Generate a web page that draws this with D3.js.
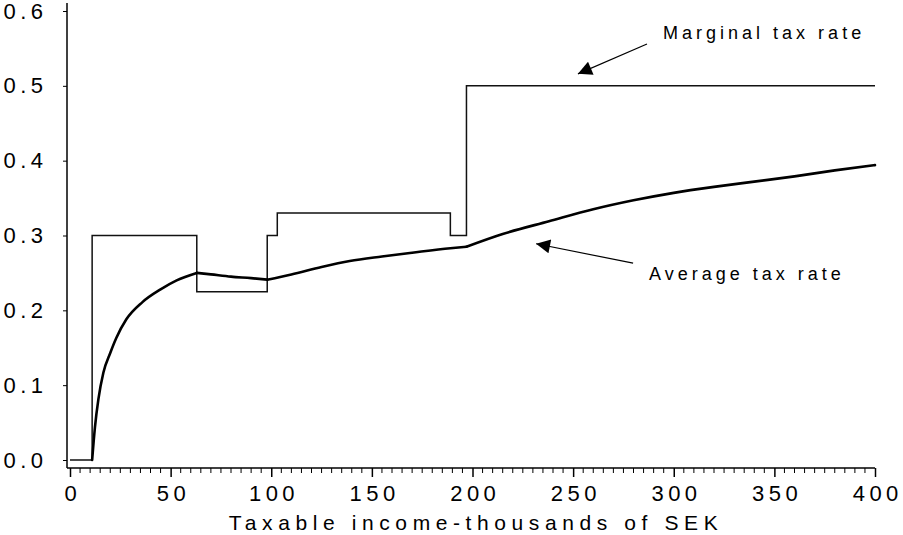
<!DOCTYPE html>
<meta charset="utf-8">
<script src="https://d3js.org/d3.v7.min.js"></script>
<style>
  body { margin: 0; background: #fff; }
  text { font-family: "Liberation Sans", Arial, sans-serif; fill: #000; }
</style>
<div id="chart"></div>
<script>
// marginal tax rate: step points [income, rate], rate holds until next point
const marginalSteps = [[0, 0], [11, 0.3], [63, 0.225], [98, 0.3], [103, 0.33], [189, 0.3], [197, 0.5], [400, 0.5]];

// average tax rate
const avgIncome = [11, 12.4, 14.1, 16.6, 20, 23, 28, 36, 45, 53, 63, 70, 80, 90, 98, 110, 125, 139, 155, 170, 189, 197, 215, 238, 260, 280, 300, 320, 340, 360, 380, 400];
const avgRate   = [0, 0.044, 0.081, 0.117, 0.143, 0.163, 0.188, 0.211, 0.228, 0.24, 0.25, 0.248, 0.245, 0.243, 0.241, 0.248, 0.258, 0.266, 0.272, 0.277, 0.283, 0.285, 0.302, 0.319, 0.335, 0.347, 0.357, 0.365, 0.372, 0.379, 0.387, 0.394];
// incomes where the average curve has a corner
const avgKinks = [11, 63, 98, 197, 400];

const yTicks = [0, 0.1, 0.2, 0.3, 0.4, 0.5, 0.6];
const xMajor = [0, 50, 100, 150, 200, 250, 300, 350, 400];
const xTitle = "Taxable income-thousands of SEK";

const W = 903, H = 535;
const svg = d3.select("#chart").append("svg").attr("width", W).attr("height", H);

const x = d3.scaleLinear().domain([0, 400]).range([70, 875]);
const y = d3.scaleLinear().domain([0, 0.6]).range([460, 11]);

const sp = 4.5; // letter spacing of tick labels

// y axis
const yAx = svg.append("g")
    .attr("transform", "translate(67,0)")
    .call(d3.axisLeft(y).tickValues(yTicks).tickFormat(d3.format(".1f")).tickSize(4).tickPadding(20 - sp));
yAx.select(".domain").remove();
yAx.selectAll("text").style("font-size", "22px").style("letter-spacing", sp + "px");
yAx.selectAll("line").attr("stroke", "#000");
svg.append("line").attr("x1", 67).attr("x2", 67).attr("y1", 3).attr("y2", 468)
    .attr("stroke", "#000").attr("stroke-width", 1.5);

// x axis, minor ticks every 5
const xAx = svg.append("g")
    .attr("transform", "translate(0,468)")
    .call(d3.axisBottom(x).tickValues(xMajor).tickSize(9).tickPadding(8));
xAx.select(".domain").remove();
xAx.selectAll("text").style("font-size", "22px").style("letter-spacing", sp + "px").attr("dx", sp / 2);
xAx.selectAll("line").attr("stroke", "#000").attr("stroke-width", 1.5);
svg.append("g").selectAll("line")
    .data(d3.range(0, 401, 5).filter(d => d % 50 !== 0))
    .join("line")
    .attr("x1", d => x(d)).attr("x2", d => x(d))
    .attr("y1", 468).attr("y2", 473)
    .attr("stroke", "#000");
svg.append("line").attr("x1", 67).attr("x2", 875).attr("y1", 468).attr("y2", 468)
    .attr("stroke", "#000").attr("stroke-width", 1.5);

svg.append("text")
    .attr("x", 476).attr("y", 530)
    .attr("text-anchor", "middle")
    .style("font-size", "21px").style("letter-spacing", "5.6px")
    .text(xTitle);

// marginal rate
svg.append("path")
    .datum(marginalSteps)
    .attr("fill", "none").attr("stroke", "#111").attr("stroke-width", 1.5)
    .attr("d", d3.line().x(d => x(d[0])).y(d => y(d[1])).curve(d3.curveStepAfter));

// average rate, smooth between the corners
const avgPts = avgIncome.map((v, i) => [v, avgRate[i]]);
const avgLine = d3.line().x(d => x(d[0])).y(d => y(d[1])).curve(d3.curveMonotoneX);
svg.append("g").selectAll("path")
    .data(d3.pairs(avgKinks).map(([a, b]) => avgPts.filter(p => p[0] >= a && p[0] <= b)))
    .join("path")
    .attr("fill", "none").attr("stroke", "#000").attr("stroke-width", 2.6)
    .attr("stroke-linejoin", "round").attr("stroke-linecap", "round")
    .attr("d", avgLine);

// annotations with arrows
svg.append("defs").append("marker")
    .attr("id", "head").attr("viewBox", "0 0 10 10")
    .attr("refX", 10).attr("refY", 5)
    .attr("markerWidth", 19).attr("markerHeight", 14)
    .attr("markerUnits", "userSpaceOnUse")
    .attr("orient", "auto")
    .append("path").attr("d", "M0,0L10,5L0,10Z").attr("fill", "#000");

const notes = [
  {label: "Marginal tax rate", tx: 294.7, ty: 0.563, from: [286.7, 0.556], to: [252.4, 0.516]},
  {label: "Average tax rate",  tx: 287.7, ty: 0.241, from: [279.8, 0.263], to: [231.6, 0.289]}
];
notes.forEach(n => {
  svg.append("line")
      .attr("x1", x(n.from[0])).attr("y1", y(n.from[1]))
      .attr("x2", x(n.to[0])).attr("y2", y(n.to[1]))
      .attr("stroke", "#000").attr("stroke-width", 1.2)
      .attr("marker-end", "url(#head)");
  svg.append("text")
      .attr("x", x(n.tx)).attr("y", y(n.ty))
      .style("font-size", "18px").style("letter-spacing", "4px")
      .text(n.label);
});
</script>
